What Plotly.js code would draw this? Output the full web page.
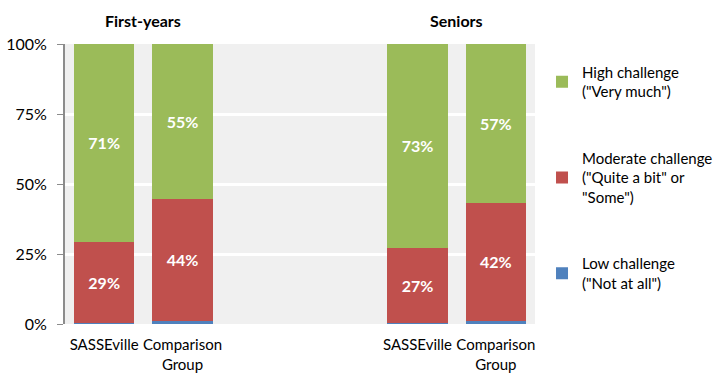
<!DOCTYPE html>
<html>
<head>
<meta charset="utf-8">
<script src="https://cdn.plot.ly/plotly-3.0.1.min.js"></script>
<style>html,body{margin:0;padding:0;background:#fff;}#chart{width:716px;height:376px;}</style>
</head>
<body>
<div id="chart"></div>
<script>
// Data
const groups = ['First-years', 'Seniors'];
const categories = ['SASSEville', 'Comparison<br>Group', 'SASSEville', 'Comparison<br>Group'];
const groupOf = [0, 0, 1, 1];
const low = [0.4, 1.1, 0.4, 1.2];
const moderate = [28.9, 43.6, 26.8, 42.1];
const high = [70.7, 55.3, 72.8, 56.7];
const seriesNames = ['Low challenge<br>("Not at all")', 'Moderate challenge<br>("Quite a bit" or<br>"Some")', 'High challenge<br>("Very much")'];
const yTicks = [0, 25, 50, 75, 100];

// Layout helpers: position bars with a gap between the groups
const xpos = categories.map((c, i) => i + groupOf[i] * 2);
const FONT = 'Lato, "Open Sans", sans-serif';

function mk(vals, name, color, showText, rank) {
  return {
    type: 'bar', x: xpos, y: vals, name: name, width: 0.77,
    marker: {color: color, line: {width: 0}},
    text: showText ? vals.map(v => Math.round(v) + '%') : vals.map(() => ''),
    textposition: 'inside', insidetextanchor: 'middle',
    textfont: {color: '#ffffff', size: 16, family: FONT, weight: 'bold'},
    hoverinfo: 'skip', cliponaxis: false,
    legendgroup: name, legendrank: rank
  };
}

const traces = [
  mk(low, seriesNames[0], '#4F81BD', false, 3),
  mk(moderate, seriesNames[1], '#C0504D', true, 2),
  mk(high, seriesNames[2], '#9BBB59', true, 1)
];

const groupCenters = groups.map((g, gi) => {
  const xs = xpos.filter((x, i) => groupOf[i] === gi);
  return (Math.min(...xs) + Math.max(...xs)) / 2;
});

const layout = {
  width: 716, height: 376,
  margin: {l: 65, r: 181, t: 44, b: 52, autoexpand: false},
  paper_bgcolor: '#ffffff', plot_bgcolor: '#f0f0f0',
  barmode: 'stack', bargap: 0,
  font: {family: FONT, size: 15, color: '#000000'},
  showlegend: true,
  legend: {
    xref: 'container', yref: 'container',
    x: 0.757, xanchor: 'left', y: 0.852, yanchor: 'top',
    traceorder: 'grouped', tracegroupgap: 44, maxheight: 340,
    font: {family: FONT, size: 15, color: '#000'},
    itemwidth: 30, bgcolor: 'rgba(0,0,0,0)'
  },
  xaxis: {
    range: [-0.5, 5.5], tickvals: xpos, ticktext: categories,
    showgrid: false, zeroline: false, showline: false, ticks: '',
    ticklabelstandoff: 10,
    tickfont: {family: FONT, size: 15}, fixedrange: true
  },
  yaxis: {
    range: [0, 100], tickvals: yTicks, ticktext: yTicks.map(v => v + '%'),
    showgrid: true, gridcolor: '#ffffff', gridwidth: 3,
    zeroline: false, showline: true, linecolor: '#8c8c8c', linewidth: 2,
    ticks: 'outside', ticklen: 6, tickcolor: '#8c8c8c', tickwidth: 1,
    ticklabelstandoff: 7,
    tickfont: {family: FONT, size: 16}, fixedrange: true
  },
  annotations: groups.map((g, gi) => ({
    x: groupCenters[gi], xref: 'x', y: 1, yref: 'paper', yanchor: 'bottom', yshift: 12,
    text: '<b>' + g + '</b>', showarrow: false,
    font: {family: FONT, size: 16, color: '#000'}
  }))
};

Plotly.newPlot('chart', traces, layout, {displayModeBar: false, staticPlot: true});
</script>
</body>
</html>
